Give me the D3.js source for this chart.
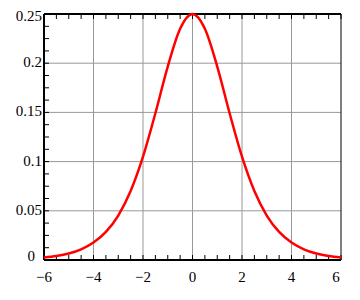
<!DOCTYPE html>
<html lang="en">
<head>
<meta charset="UTF-8">
<title>Logistic density</title>
<script src="https://d3js.org/d3.v7.min.js"></script>
<style>
    body { margin: 0; background: #fff; }
    .grid line { stroke: #999; stroke-width: 1px; }
</style>
</head>
<body>
<div id="chart"></div>
<script>
    // values
    const xs = [-6, -5.5, -5, -4.5, -4, -3.5, -3, -2.5, -2, -1.5, -1, -0.5, 0,
                0.5, 1, 1.5, 2, 2.5, 3, 3.5, 4, 4.5, 5, 5.5, 6];
    const ys = [0.0025, 0.004, 0.0066, 0.0109, 0.0177, 0.0285, 0.0452, 0.0701, 0.105, 0.1491, 0.1966, 0.235, 0.25,
                0.235, 0.1966, 0.1491, 0.105, 0.0701, 0.0452, 0.0285, 0.0177, 0.0109, 0.0066, 0.004, 0.0025];
    const xTicks = [-6, -4, -2, 0, 2, 4, 6];
    const yTicks = [0, 0.05, 0.1, 0.15, 0.2, 0.25];
    const yLabels = ["0", "0.05", "0.1", "0.15", "0.2", "0.25"];

    const W = 360, H = 300;
    const margin = { top: 14, right: 19, bottom: 40, left: 44 },
        width = W - margin.left - margin.right,
        height = H - margin.top - margin.bottom;
    const FONT = "'Liberation Serif', 'Times New Roman', serif";

    const svg = d3.select("#chart").append("svg")
        .attr("width", W).attr("height", H)
        .append("g")
        .attr("transform", `translate(${margin.left}, ${margin.top})`);

    const x = d3.scaleLinear().domain([-6, 6]).range([0, width]);
    const y = d3.scaleLinear().domain([0, 0.25]).range([height, 0]);

    // grid
    svg.append("g").attr("class", "grid")
        .selectAll("line").data(xTicks.filter(d => d > -6 && d < 6)).enter()
        .append("line")
        .attr("x1", d => x(d)).attr("x2", d => x(d))
        .attr("y1", 0).attr("y2", height);
    svg.append("g").attr("class", "grid")
        .selectAll("line").data(yTicks.filter(d => d > 0 && d < 0.25)).enter()
        .append("line")
        .attr("y1", d => y(d)).attr("y2", d => y(d))
        .attr("x1", 0).attr("x2", width);

    // minor + major ticks, pointing inward
    const xMinor = d3.range(-6, 6.01, 0.5);
    const yMinor = d3.range(0, 0.2501, 0.0125);
    svg.append("g").selectAll("line").data(xMinor).enter().append("line")
        .attr("x1", d => x(d)).attr("x2", d => x(d))
        .attr("y1", height).attr("y2", height - 5)
        .attr("stroke", "#000").attr("stroke-width", 1);
    svg.append("g").selectAll("line").data(xMinor).enter().append("line")
        .attr("x1", d => x(d)).attr("x2", d => x(d))
        .attr("y1", 0).attr("y2", 5)
        .attr("stroke", "#000").attr("stroke-width", 1);
    svg.append("g").selectAll("line").data(yMinor).enter().append("line")
        .attr("x1", 0).attr("x2", 5)
        .attr("y1", d => y(d)).attr("y2", d => y(d))
        .attr("stroke", "#000").attr("stroke-width", 1);

    // frame
    const frame = [
        [0, height, width, height, 2],
        [0, 0, width, 0, 2],
        [0, 0, 0, height, 2],
        [width, 0, width, height, 1]
    ];
    svg.append("g").selectAll("line").data(frame).enter().append("line")
        .attr("x1", d => d[0]).attr("y1", d => d[1])
        .attr("x2", d => d[2]).attr("y2", d => d[3])
        .attr("stroke", "#000").attr("stroke-width", d => d[4]);

    // labels
    svg.append("g").selectAll("text").data(xTicks).enter().append("text")
        .attr("x", d => x(d) - (d === 6 ? 5 : 0))
        .attr("y", height + 22)
        .attr("text-anchor", "middle")
        .style("font-family", FONT).style("font-size", "15px")
        .text(d => d < 0 ? "\u2212" + Math.abs(d) : d);
    svg.append("g").selectAll("text").data(yTicks).enter().append("text")
        .attr("x", (d, i) => i === 0 ? -9 : -2)
        .attr("y", (d, i) => y(d) + 4 + (i === 0 ? -3 : i === yTicks.length - 1 ? 3 : 0))
        .attr("text-anchor", "end")
        .style("font-family", FONT).style("font-size", "15px")
        .text((d, i) => yLabels[i]);

    // curve
    const line = d3.line()
        .x((d, i) => x(xs[i]))
        .y(d => y(d))
        .curve(d3.curveMonotoneX);
    svg.append("path")
        .datum(ys)
        .attr("fill", "none")
        .attr("stroke", "#f00")
        .attr("stroke-width", 2.5)
        .attr("d", line);
</script>
</body>
</html>
